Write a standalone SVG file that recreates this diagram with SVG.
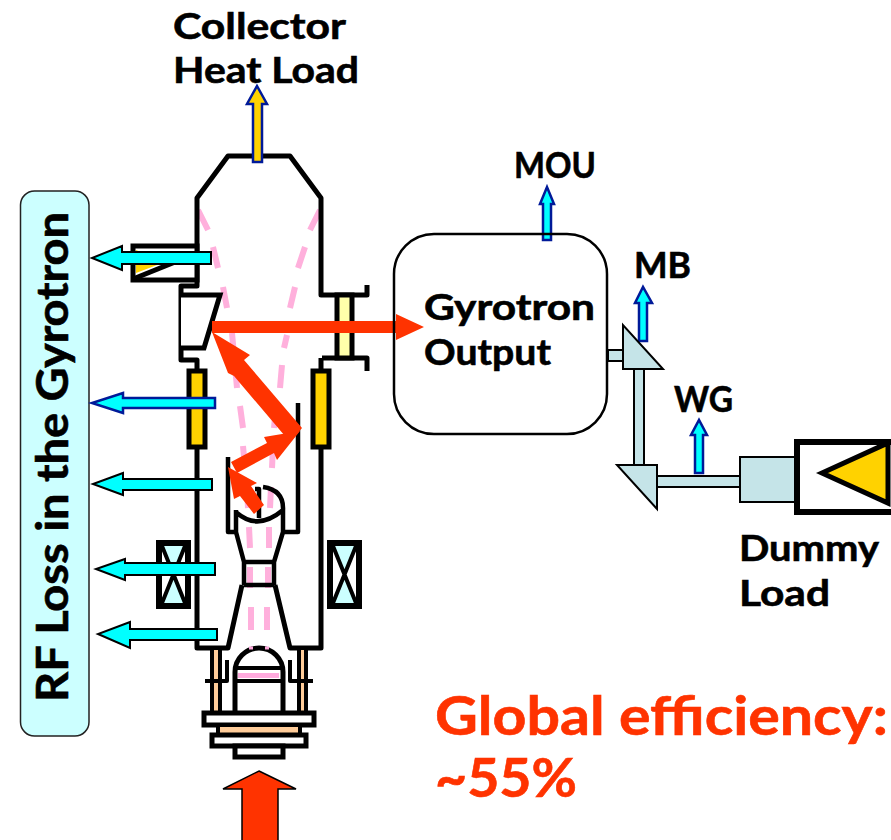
<svg xmlns="http://www.w3.org/2000/svg" width="891" height="840" viewBox="0 0 891 840">
<style>
text{font-family:Lato,"Noto Sans","DejaVu Sans",sans-serif;font-weight:700;fill:#000;font-size:37px;stroke:#000;stroke-width:.6}
.red{font-size:54px;fill:#FF3300;stroke:#FF3300}
.w{fill:none;stroke:#000;stroke-width:5;stroke-linejoin:round}
.wf{fill:#fff;stroke:#000;stroke-width:5}
.y{fill:#FFD200;stroke:#000;stroke-width:5}
.p{fill:none;stroke:#FFB0DC;stroke-width:6}
.c{fill:#00FFFF;stroke:#000;stroke-width:2}
.n{fill:#00FFFF;stroke:#001A99;stroke-width:2.5}
.r{fill:#FF3300}
.t{fill:#C5E4E8;stroke:#000;stroke-width:2}
.m{fill:#CCFFFF;stroke:#000;stroke-width:6}
</style>
<g id="rf-loss-panel">
<rect x="20.500" y="191" width="68.500" height="545" rx="14" fill="#CCFFFF" stroke="#222" stroke-width="1.500"/>
<text transform="translate(68 702) rotate(-90)" textLength="490" lengthAdjust="spacingAndGlyphs" style="font-size:44px">RF Loss in the Gyrotron</text>
</g>
<g id="gyrotron">
<path class="p" d="M198 210L208 230M213 247L218 268M223 287L227 308M232 333L237 388M240 406L243 428M243 446L245 467M247 487L248 508M249 527L250 548M250 567L250 588M251 607L251 630M320 210L310 230M305 247L298 268M295 287L290 308M287 335L284 348M282 365L280 388M276 406L274 428M273 446L272 468M271 487L270 508M269 527L269 548M268 567L268 588M267 607L267 630"/>
<path class="w" d="M197 280V198L228 156H290L321 198V295H367V285M197 370V648H228L242 585M275 585L290 648H321V358"/>
<path class="w" d="M322 358H367V371M197 280V286H181V360H197V370"/>
<rect class="wf" x="133" y="246" width="64" height="34"/>
<path d="M136 250L165 262L136 273Z" fill="#FFD200"/>
<path d="M133 279L190 256" stroke="#000" stroke-width="5" fill="none"/>
<path class="wf" d="M181 295H220L204 348H181"/>
<rect x="337" y="295" width="15" height="63" fill="#FFFFAA" stroke="#000" stroke-width="5"/>
<rect class="y" x="189" y="371" width="16" height="76"/>
<rect class="y" x="313" y="371" width="16" height="76"/>
<path class="w" style="stroke-width:4.500" d="M228 457V532H238M298 403V532H284"/>
<path class="w" style="stroke-width:4.500" d="M236 510V532L244 562V585M283 510V532L274 562V585M244 562H274M244 585H274M237 513Q258 531 283 510Q284 490 263 487M259 518V489H255"/>
<rect class="m" x="159" y="543" width="29" height="63"/>
<rect class="m" x="330" y="543" width="29" height="63"/>
<path d="M162 546L173 574L162 603ZM185 546L173 574L185 603ZM333 546L344 574L333 603ZM356 546L344 574L356 603Z" fill="#fff"/>
<path d="M162 546L185 603M185 546L162 603M333 546L356 603M356 546L333 603" stroke="#000" stroke-width="4"/>
<rect x="214" y="650" width="4" height="62" fill="#FFCC99"/>
<rect x="301" y="650" width="4" height="62" fill="#FFCC99"/>
<path class="w" style="stroke-width:4" d="M212 648V712M220 648V712M299 648V712M306 648V712M227 660V681H205M290 660V681H313"/>
<path class="wf" style="fill:none" d="M235 712V672A24 24 0 0 1 283 672V712"/>
<path d="M249 648H253M265 648H269" stroke="#FFAADD" stroke-width="3"/>
<rect x="238" y="673" width="41" height="5" fill="#FFAADD"/>
<path d="M235 668H283M235 681H283" stroke="#000" stroke-width="4"/>
<rect class="wf" x="204" y="713" width="110" height="12"/>
<rect x="218" y="725" width="82" height="10" fill="#FFCC99" stroke="#000" stroke-width="4"/>
<rect class="wf" x="212" y="735" width="94" height="11"/>
<rect class="wf" x="235" y="746" width="48" height="11"/>
</g>
<g id="connectors">
<path class="n" style="fill:#FFD200" d="M253 162V104H247L257 86L267 104H262V162Z"/>
<path class="c" d="M211 252V264H122V270L92 258L122 246V252Z"/>
<path class="n" d="M215 398V408H123V413L92 403L123 393V398Z"/>
<path class="c" d="M212 479V490H123V495L93 484L123 473V479Z"/>
<path class="c" d="M215 563V575H125V580L96 569L125 559V563Z"/>
<path class="c" d="M217 629V640H130V648L98 634L130 622V629Z"/>
<path class="r" d="M212 321H396V314L424 327L396 340V333H212Z"/>
<path class="r" d="M212 332L250 355L244 360L302 428L290 442L234 376L228 373Z"/>
<path class="r" d="M300 431L277 460L274 453L237 473L231 462L267 443L264 437Z"/>
<path class="r" d="M228 467L257 483L251 486L264 505L254 514L240 496L234 499Z"/>
<path class="r" stroke="#000" stroke-width="1.500" d="M259 771L296 789H278V841H242V789H223Z"/>
<path class="n" d="M543 240V204H540L547 187L554 204H551V240Z"/>
<path class="n" d="M639 341V303H635L643 287L652 303H647V341Z"/>
<path class="n" d="M695 473V435H691L699 420L707 435H703V473Z"/>
</g>
<g id="gyrotron-output">
<rect x="394" y="234" width="213" height="200" rx="40" fill="none" stroke="#000" stroke-width="2.500"/>
<text x="424" y="320" textLength="171" lengthAdjust="spacingAndGlyphs">Gyrotron</text>
<text x="424" y="365" textLength="127" lengthAdjust="spacingAndGlyphs">Output</text>
</g>
<g id="transmission-line">
<rect class="t" x="608" y="350" width="15" height="11"/>
<rect class="t" x="634" y="369" width="10" height="96"/>
<path class="t" d="M623 325V369H663Z"/>
<path class="t" d="M617 465H657V509Z"/>
<rect class="t" x="657" y="476" width="83" height="11"/>
<rect class="t" x="740" y="457" width="55" height="45"/>
</g>
<g id="dummy-load">
<rect x="797" y="442" width="97" height="70" fill="#fff" stroke="#000" stroke-width="6"/>
<path d="M822 473L888 443V503Z" fill="#FFD200" stroke="#000" stroke-width="5"/>
<text x="739" y="561" textLength="140" lengthAdjust="spacingAndGlyphs">Dummy</text>
<text x="739" y="606" textLength="91" lengthAdjust="spacingAndGlyphs">Load</text>
</g>
<g id="labels">
<text x="173" y="39" textLength="173" lengthAdjust="spacingAndGlyphs">Collector</text>
<text x="173" y="83" textLength="186" lengthAdjust="spacingAndGlyphs">Heat Load</text>
<text x="514" y="178" textLength="82" lengthAdjust="spacingAndGlyphs">MOU</text>
<text x="634" y="278" textLength="57" lengthAdjust="spacingAndGlyphs">MB</text>
<text x="674" y="412" textLength="59" lengthAdjust="spacingAndGlyphs">WG</text>
<text class="red" x="435" y="735" textLength="453" lengthAdjust="spacingAndGlyphs">Global efficiency:</text>
<text class="red" x="435" y="797" textLength="142" lengthAdjust="spacingAndGlyphs">~55%</text>
</g>
</svg>
